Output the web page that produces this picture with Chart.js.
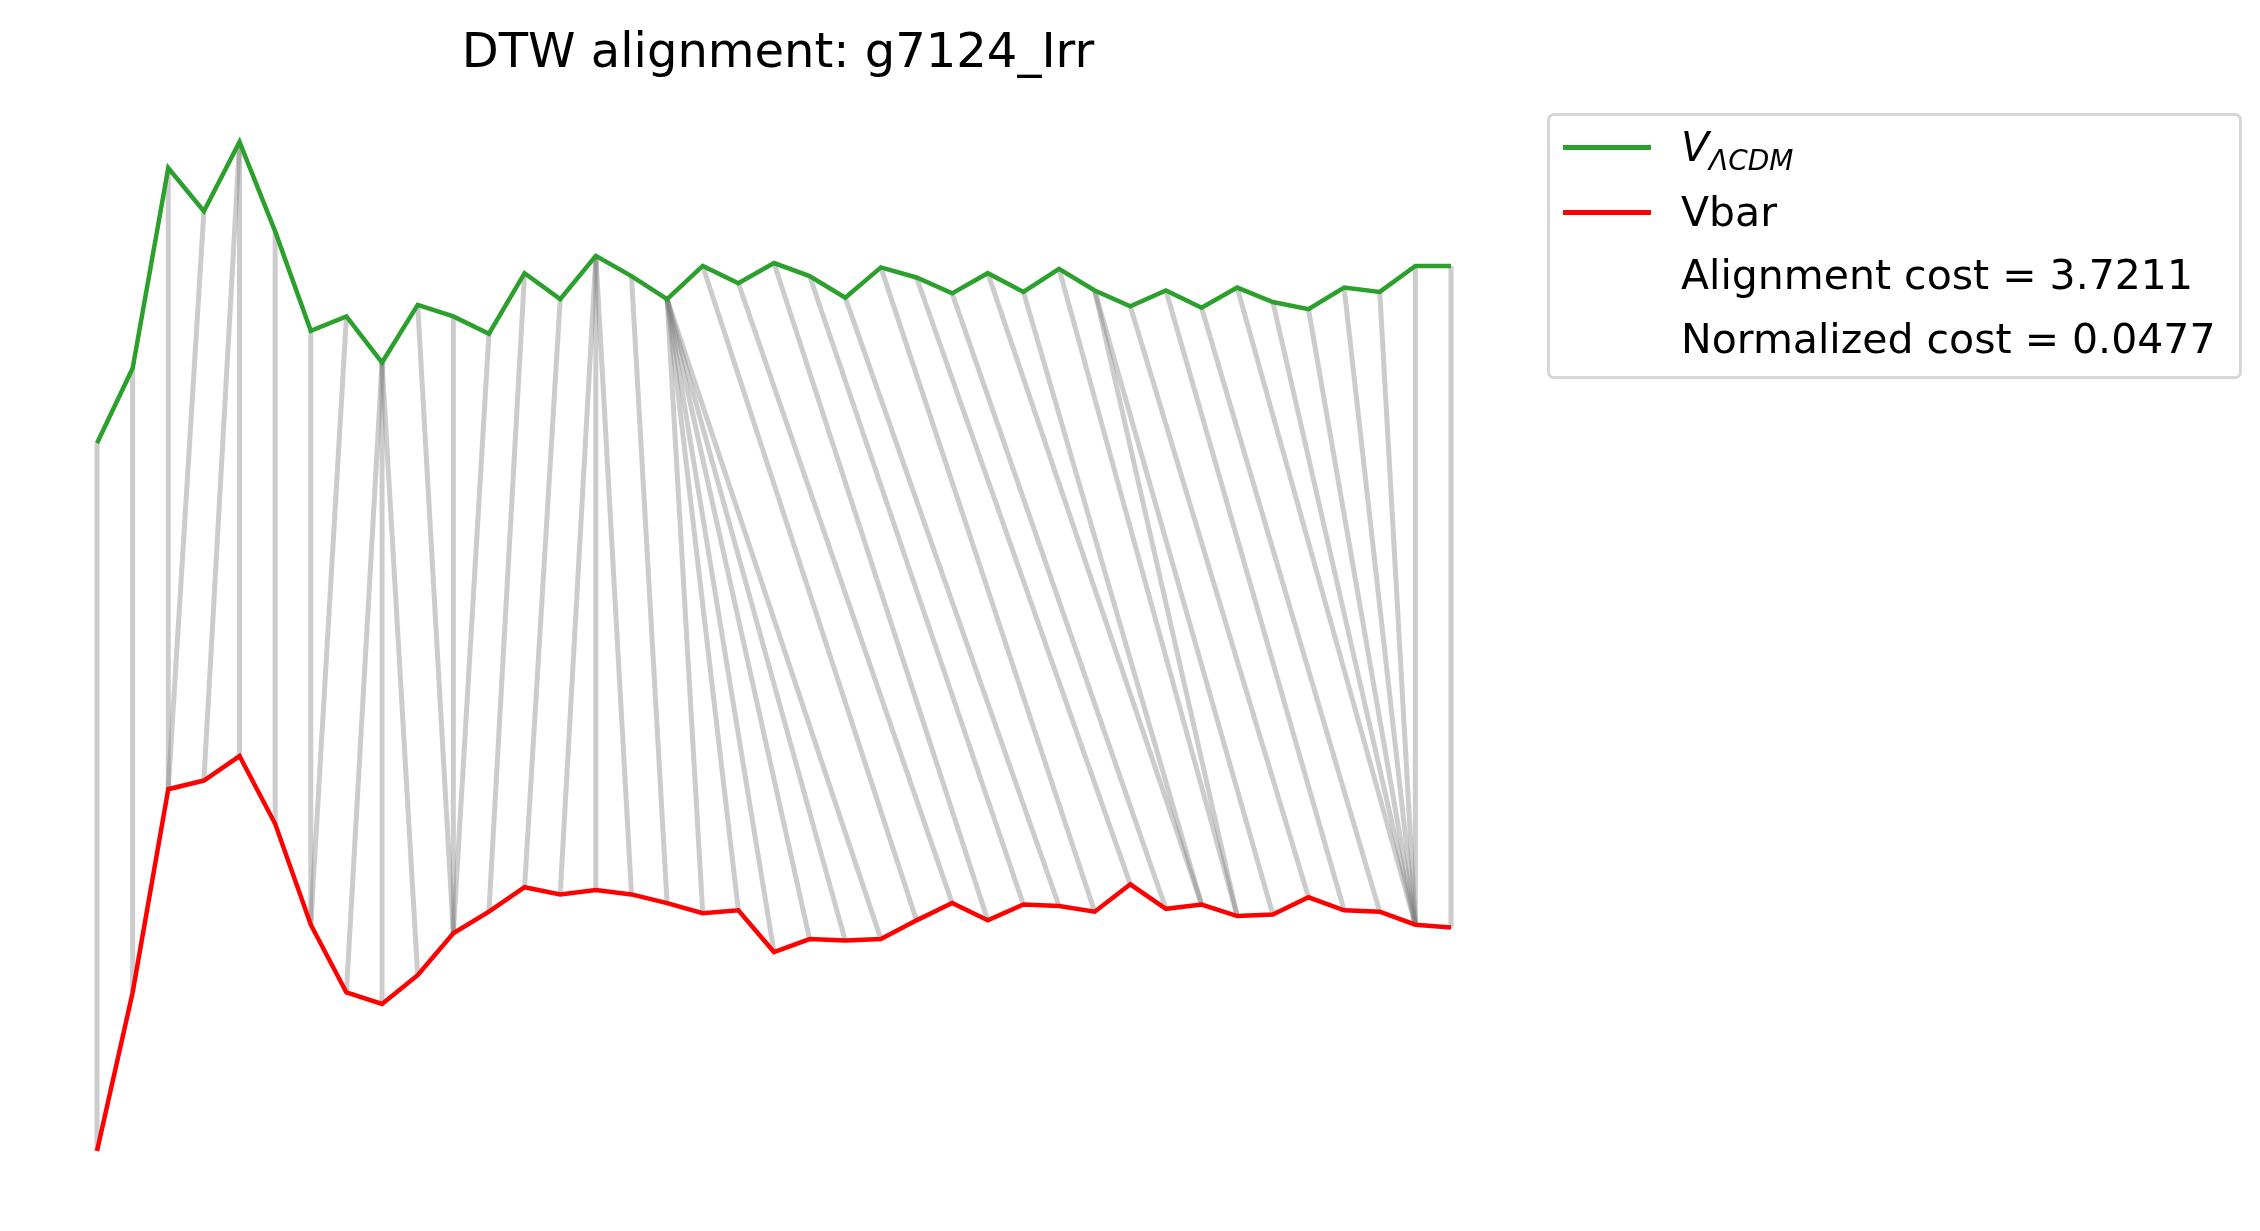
<!DOCTYPE html>
<html>
<head>
<meta charset="utf-8">
<script src="https://cdn.jsdelivr.net/npm/chart.js@4.4.0/dist/chart.umd.min.js"></script>
<style>
  body { margin: 0; background: #fff; font-family: "DejaVu Sans", sans-serif; }
  #wrap { position: relative; width: 2260px; height: 1231px; }
  #title { position: absolute; left: 0; width: 1556px; top: 22px; text-align: center; font-size: 48px; color: #000; }
  #legend { position: absolute; left: 1547px; top: 113px; width: 695px; height: 266px; border: 3px solid #d6d6d6; border-radius: 7px; box-sizing: border-box; }
  .row { position: absolute; left: 0; height: 50px; font-size: 41px; color: #000; }
  .sw { position: absolute; left: 13px; top: 23px; width: 88px; height: 5px; }
  .tx { position: absolute; left: 131px; top: 0; white-space: nowrap; line-height: 50px; }
</style>
</head>
<body>
<div id="wrap">
  <canvas id="chart1" width="2260" height="1231"></canvas>
  <div id="title">DTW alignment: g7124_Irr</div>
  <div id="legend">
    <div class="row" style="top:6px"><div class="sw" style="background:#2ca02c"></div><div class="tx"><i>V</i><sub style="font-size:28px"><i>ΛCDM</i></sub></div></div>
    <div class="row" style="top:71px"><div class="sw" style="background:#ff0000"></div><div class="tx">Vbar</div></div>
    <div class="row" style="top:134px"><div class="tx">Alignment cost = 3.7211</div></div>
    <div class="row" style="top:198px"><div class="tx">Normalized cost = 0.0477</div></div>
  </div>
</div>
<script>
  "use strict";

  // series values (vertical offsets, larger = lower)
  var vLCDM = [307, 255, 116, 146, 98, 160, 229, 219, 251, 211, 219, 231, 189, 207, 177, 191, 207, 184, 196, 182,
               191, 206, 185, 192, 203, 189, 202, 186, 201, 212, 201, 213, 199, 209, 214, 199, 202, 184, 184];
  var vBar = [798, 688, 547, 541, 524, 571, 641, 688, 696, 676, 647, 632, 615, 620, 617, 620, 626, 633, 631, 660,
              651, 652, 651, 638, 626, 638, 627, 628, 632, 613, 630, 627, 635, 634, 622, 631, 632, 641, 643];

  // warping path: [index in V_LCDM, index in Vbar]
  var path = [[0, 0], [1, 1], [2, 2], [3, 2], [4, 3], [4, 4], [5, 5], [6, 6], [7, 6], [8, 7], [8, 8], [8, 9],
              [9, 10], [10, 10], [11, 10], [12, 11], [13, 12], [14, 13], [14, 14], [14, 15], [15, 16],
              [16, 17], [16, 18], [16, 19], [16, 20], [16, 21], [16, 22], [17, 23], [18, 24], [19, 25],
              [20, 26], [21, 27], [22, 28], [23, 29], [24, 30], [25, 31], [26, 31], [27, 32], [28, 32],
              [28, 33], [29, 34], [30, 35], [31, 36], [32, 37], [33, 37], [34, 37], [35, 37], [36, 37],
              [37, 37], [38, 38]];

  var datasets = [];

  path.forEach(function (p) {
    datasets.push({
      data: [{ x: p[0], y: vLCDM[p[0]] }, { x: p[1], y: vBar[p[1]] }],
      borderColor: 'rgba(128,128,128,0.4)',
      borderWidth: 5,
      pointRadius: 0,
      clip: false,
      order: 3
    });
  });

  datasets.push({
    label: 'V_LCDM',
    data: vLCDM.map(function (v, i) { return { x: i, y: v }; }),
    borderColor: '#2ca02c',
    borderWidth: 4.5,
    pointRadius: 0,
    clip: false,
    order: 1
  });
  datasets.push({
    label: 'Vbar',
    data: vBar.map(function (v, i) { return { x: i, y: v }; }),
    borderColor: '#ff0000',
    borderWidth: 4.5,
    pointRadius: 0,
    clip: false,
    order: 1
  });

  var ctx = document.getElementById('chart1').getContext('2d');
  var myChart = new Chart(ctx, {
    type: 'line',
    data: { datasets: datasets },
    options: {
      responsive: false,
      animation: false,
      devicePixelRatio: 1,
      layout: { padding: { left: 97, right: 809, top: 142, bottom: 80 } },
      plugins: { legend: { display: false }, tooltip: { enabled: false } },
      scales: {
        x: { type: 'linear', min: 0, max: 38, display: false },
        y: { reverse: true, min: 98, max: 798, display: false }
      }
    }
  });
</script>
</body>
</html>
